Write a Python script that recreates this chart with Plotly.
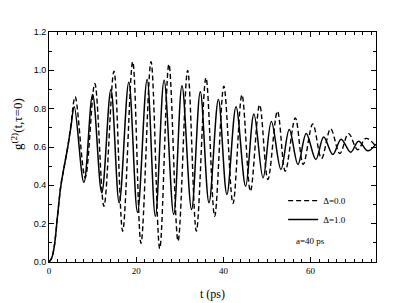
import plotly.graph_objects as go

# Delta = 1.0 (solid) : readings of the curve (rise + extrema)
t_d1 = [0, 0.6, 1.2, 2.0, 2.7, 3.5, 4.3, 5.0, 5.8, 8.0, 10.0, 12.1, 14.2, 16.1, 18.3, 20.3,
        22.5, 24.4, 26.4, 28.6, 30.5, 32.7, 34.7, 36.7, 38.85, 40.8, 42.9, 45.1, 47.0, 49.1,
        51.0, 53.2, 55.1, 57.1, 59.0, 61.2, 63.0, 65.1, 67.0, 69.2, 71.0, 73.1, 75.0]
g_d1 = [0, 0.02, 0.08, 0.25, 0.395, 0.50, 0.60, 0.70, 0.81, 0.415, 0.874, 0.361, 0.90, 0.309,
        0.938, 0.26, 0.952, 0.239, 0.948, 0.248, 0.92, 0.274, 0.888, 0.309, 0.848, 0.352, 0.81,
        0.395, 0.772, 0.439, 0.733, 0.483, 0.691, 0.509, 0.671, 0.535, 0.652, 0.561, 0.641,
        0.573, 0.63, 0.58, 0.615]

# Delta = 0.0 (dashed)
t_d0 = [0, 0.6, 1.2, 2.0, 2.7, 3.5, 4.3, 5.0, 6.0, 8.3, 10.5, 12.6, 14.9, 16.9, 19.2, 21.1,
        23.4, 25.4, 27.5, 29.6, 31.8, 33.8, 36.0, 38.0, 40.1, 42.2, 44.25, 46.2, 48.3, 50.2,
        52.4, 54.2, 56.5, 58.3, 60.5, 62.5, 64.6, 66.7, 68.7, 70.8, 72.7, 75.0]
g_d0 = [0, 0.02, 0.08, 0.25, 0.395, 0.50, 0.60, 0.71, 0.862, 0.44, 0.931, 0.291, 0.995, 0.161,
        1.045, 0.097, 1.045, 0.07, 1.032, 0.109, 1.0, 0.161, 0.961, 0.239, 0.917, 0.305, 0.872,
        0.369, 0.82, 0.43, 0.787, 0.474, 0.752, 0.509, 0.72, 0.54, 0.695, 0.566, 0.67, 0.586,
        0.645, 0.603]

x_ticks = [0, 20, 40, 60]
y_ticks = [0.0, 0.2, 0.4, 0.6, 0.8, 1.0, 1.2]

serif = "Liberation Serif"
sans = "Liberation Sans"

fig = go.Figure()
fig.add_trace(go.Scatter(x=t_d0, y=g_d0, mode="lines", name="\u0394=0.0",
                         line=dict(color="black", width=1.4, dash="5px,3px", shape="spline", smoothing=1.0)))
fig.add_trace(go.Scatter(x=t_d1, y=g_d1, mode="lines", name="\u0394=1.0",
                         line=dict(color="black", width=1.5, shape="spline", smoothing=1.0)))

# page body adds an 8px offset, so the figure is slightly smaller than the window
fig.update_layout(
    width=407, height=295,
    margin=dict(l=41, r=39, t=24, b=41),
    plot_bgcolor="white", paper_bgcolor="white",
    showlegend=True,
    legend=dict(x=0.716, y=0.33, xanchor="left", yanchor="top",
                font=dict(family=serif, size=9, color="black"),
                bgcolor="rgba(0,0,0,0)", itemwidth=30, tracegroupgap=0),
    xaxis=dict(range=[0, 75], tickvals=x_ticks, ticktext=[str(v) for v in x_ticks],
               automargin=False,
               ticks="inside", ticklen=5, tickwidth=1, tickcolor="black",
               minor=dict(dtick=2, ticks="inside", ticklen=3, tickcolor="black", showgrid=False),
               showline=True, linecolor="black", linewidth=1, mirror="ticks",
               showgrid=False, zeroline=False,
               tickfont=dict(family=serif, size=9, color="black")),
    yaxis=dict(range=[0, 1.2], tickvals=y_ticks, ticktext=["%.1f" % v for v in y_ticks],
               automargin=False,
               ticks="inside", ticklen=5, tickwidth=1, tickcolor="black",
               minor=dict(dtick=0.1, ticks="inside", ticklen=3, tickcolor="black", showgrid=False),
               showline=True, linecolor="black", linewidth=1, mirror="ticks",
               showgrid=False, zeroline=False,
               tickfont=dict(family=sans, size=9, color="black")),
)

fig.add_annotation(text="g<sup>(2)</sup>(t,\u03c4=0)", textangle=-90, xref="paper", yref="paper",
                   x=-0.098, y=0.6, xanchor="center", yanchor="middle", showarrow=False,
                   font=dict(family=serif, size=13, color="black"))
fig.add_annotation(text="t (ps)", xref="paper", yref="paper", x=0.5, y=-0.141,
                   xanchor="center", yanchor="middle", showarrow=False,
                   font=dict(family=serif, size=12, color="black"))
fig.add_annotation(text="a=40 ps", xref="paper", yref="paper", x=0.801, y=0.093,
                   xanchor="center", yanchor="middle", showarrow=False,
                   font=dict(family=serif, size=9, color="black"))

fig.write_html("out.html")
